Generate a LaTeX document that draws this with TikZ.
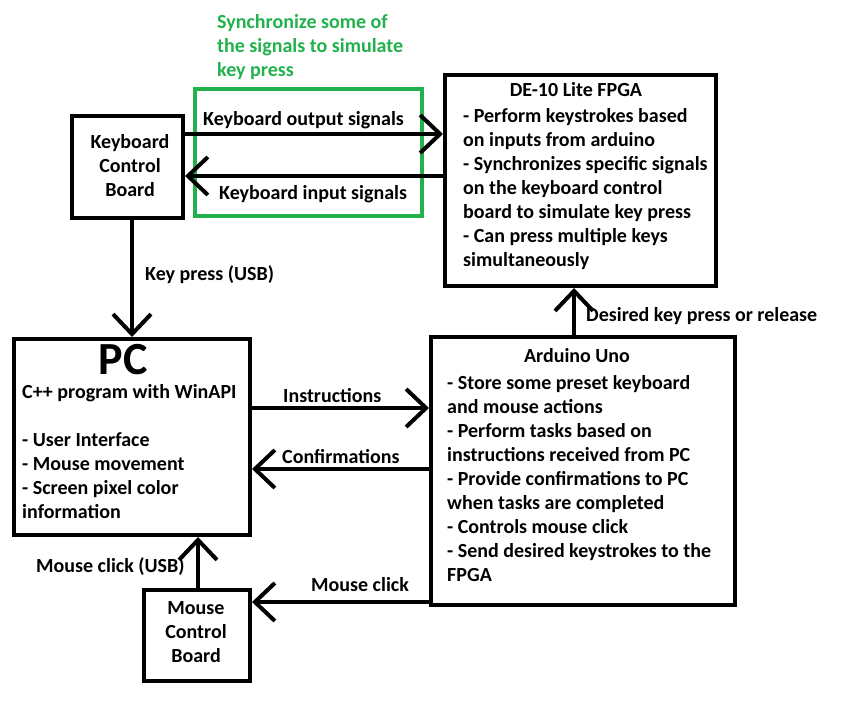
\documentclass[tikz,border=0pt]{standalone}
\usepackage{fontspec}
\setmainfont{Carlito}
\usetikzlibrary{arrows.meta}
\definecolor{pgreen}{HTML}{22B14C}
\tikzset{
  every node/.style={font=\fontsize{20}{24}\selectfont\bfseries, inner sep=0pt},
  box/.style={draw, line width=4pt, rectangle, inner sep=0pt},
  gbox/.style={draw=pgreen, line width=4pt, rectangle, inner sep=0pt},
  arr/.style={line width=4pt, -{Straight Barb[length=20pt, width=38pt]}},
  txt/.style={anchor=base west, align=left},
  ctxt/.style={anchor=base, align=center},
}
\begin{document}
\begin{tikzpicture}[x=1pt, y=-1pt]
\useasboundingbox (0,0) rectangle (851,704);
% boxes
\node[box, minimum width=111, minimum height=102] (kcb) at (127.5,167) {};
\node[box, minimum width=271, minimum height=211] (fpga) at (580.5,180.5) {};
\node[box, minimum width=236, minimum height=196] (pc) at (132,437) {};
\node[box, minimum width=304, minimum height=268] (ard) at (583,471) {};
\node[box, minimum width=106, minimum height=91] (mcb) at (197,635.5) {};
\node[gbox, minimum width=227, minimum height=127] (sync) at (308.5,152.5) {};
% texts (base anchor = baseline of last line)
\node[txt, text=pgreen] (synctxt) at (217,76) {Synchronize some of\\the signals to simulate\\key press};
\node[ctxt] (kcbtxt) at (130,196) {Keyboard\\Control\\Board};
\node[ctxt] (fpgatitle) at (576,96) {DE-10 Lite FPGA};
\node[txt] (fpgatxt) at (463,266) {- Perform keystrokes based\\on inputs from arduino\\- Synchronizes specific signals\\on the keyboard control\\board to simulate key press\\- Can press multiple keys\\simultaneously};
\node[ctxt, font=\fontsize{46}{50}\selectfont\bfseries] (pctitle) at (123,374) {PC};
\node[txt] (pctxt) at (22,518) {C++ program with WinAPI\\[24pt]- User Interface\\- Mouse movement\\- Screen pixel color\\information};
\node[ctxt] (ardtitle) at (577,362) {Arduino Uno};
\node[txt] (ardtxt) at (447,581) {- Store some preset keyboard\\and mouse actions\\- Perform tasks based on\\instructions received from PC\\- Provide confirmations to PC\\when tasks are completed\\- Controls mouse click\\- Send desired keystrokes to the\\FPGA};
\node[ctxt] (mcbtxt) at (196,662) {Mouse\\Control\\Board};
% connectors
\draw[arr] (kcb.east |- {(0,134)}) -- (fpga.west |- {(0,134)});
\draw[arr] (fpga.west |- {(0,176)}) -- (kcb.east |- {(0,176)});
\draw[arr] (kcb.south -| pc.north) -- (pc.north);
\draw[arr] (ard.north -| {(574,0)}) -- (fpga.south -| {(574,0)});
\draw[arr] (pc.east |- {(0,408)}) -- (ard.west |- {(0,408)});
\draw[arr] (ard.west |- {(0,469)}) -- (pc.east |- {(0,469)});
\draw[arr] (ard.west |- {(0,602)}) -- (mcb.east |- {(0,602)});
\draw[arr] (mcb.north -| {(198,0)}) -- (pc.south -| {(198,0)});
% connector labels
\node[txt] (l1) at (203,125) {Keyboard output signals};
\node[txt] (l2) at (219,199) {Keyboard input signals};
\node[txt] (l3) at (145,280) {Key press (USB)};
\node[txt] (l4) at (586,321) {Desired key press or release};
\node[txt] (l5) at (283,402) {Instructions};
\node[txt] (l6) at (282,463) {Confirmations};
\node[txt] (l7) at (311,591) {Mouse click};
\node[txt] (l8) at (36,572) {Mouse click (USB)};
\end{tikzpicture}
\end{document}
